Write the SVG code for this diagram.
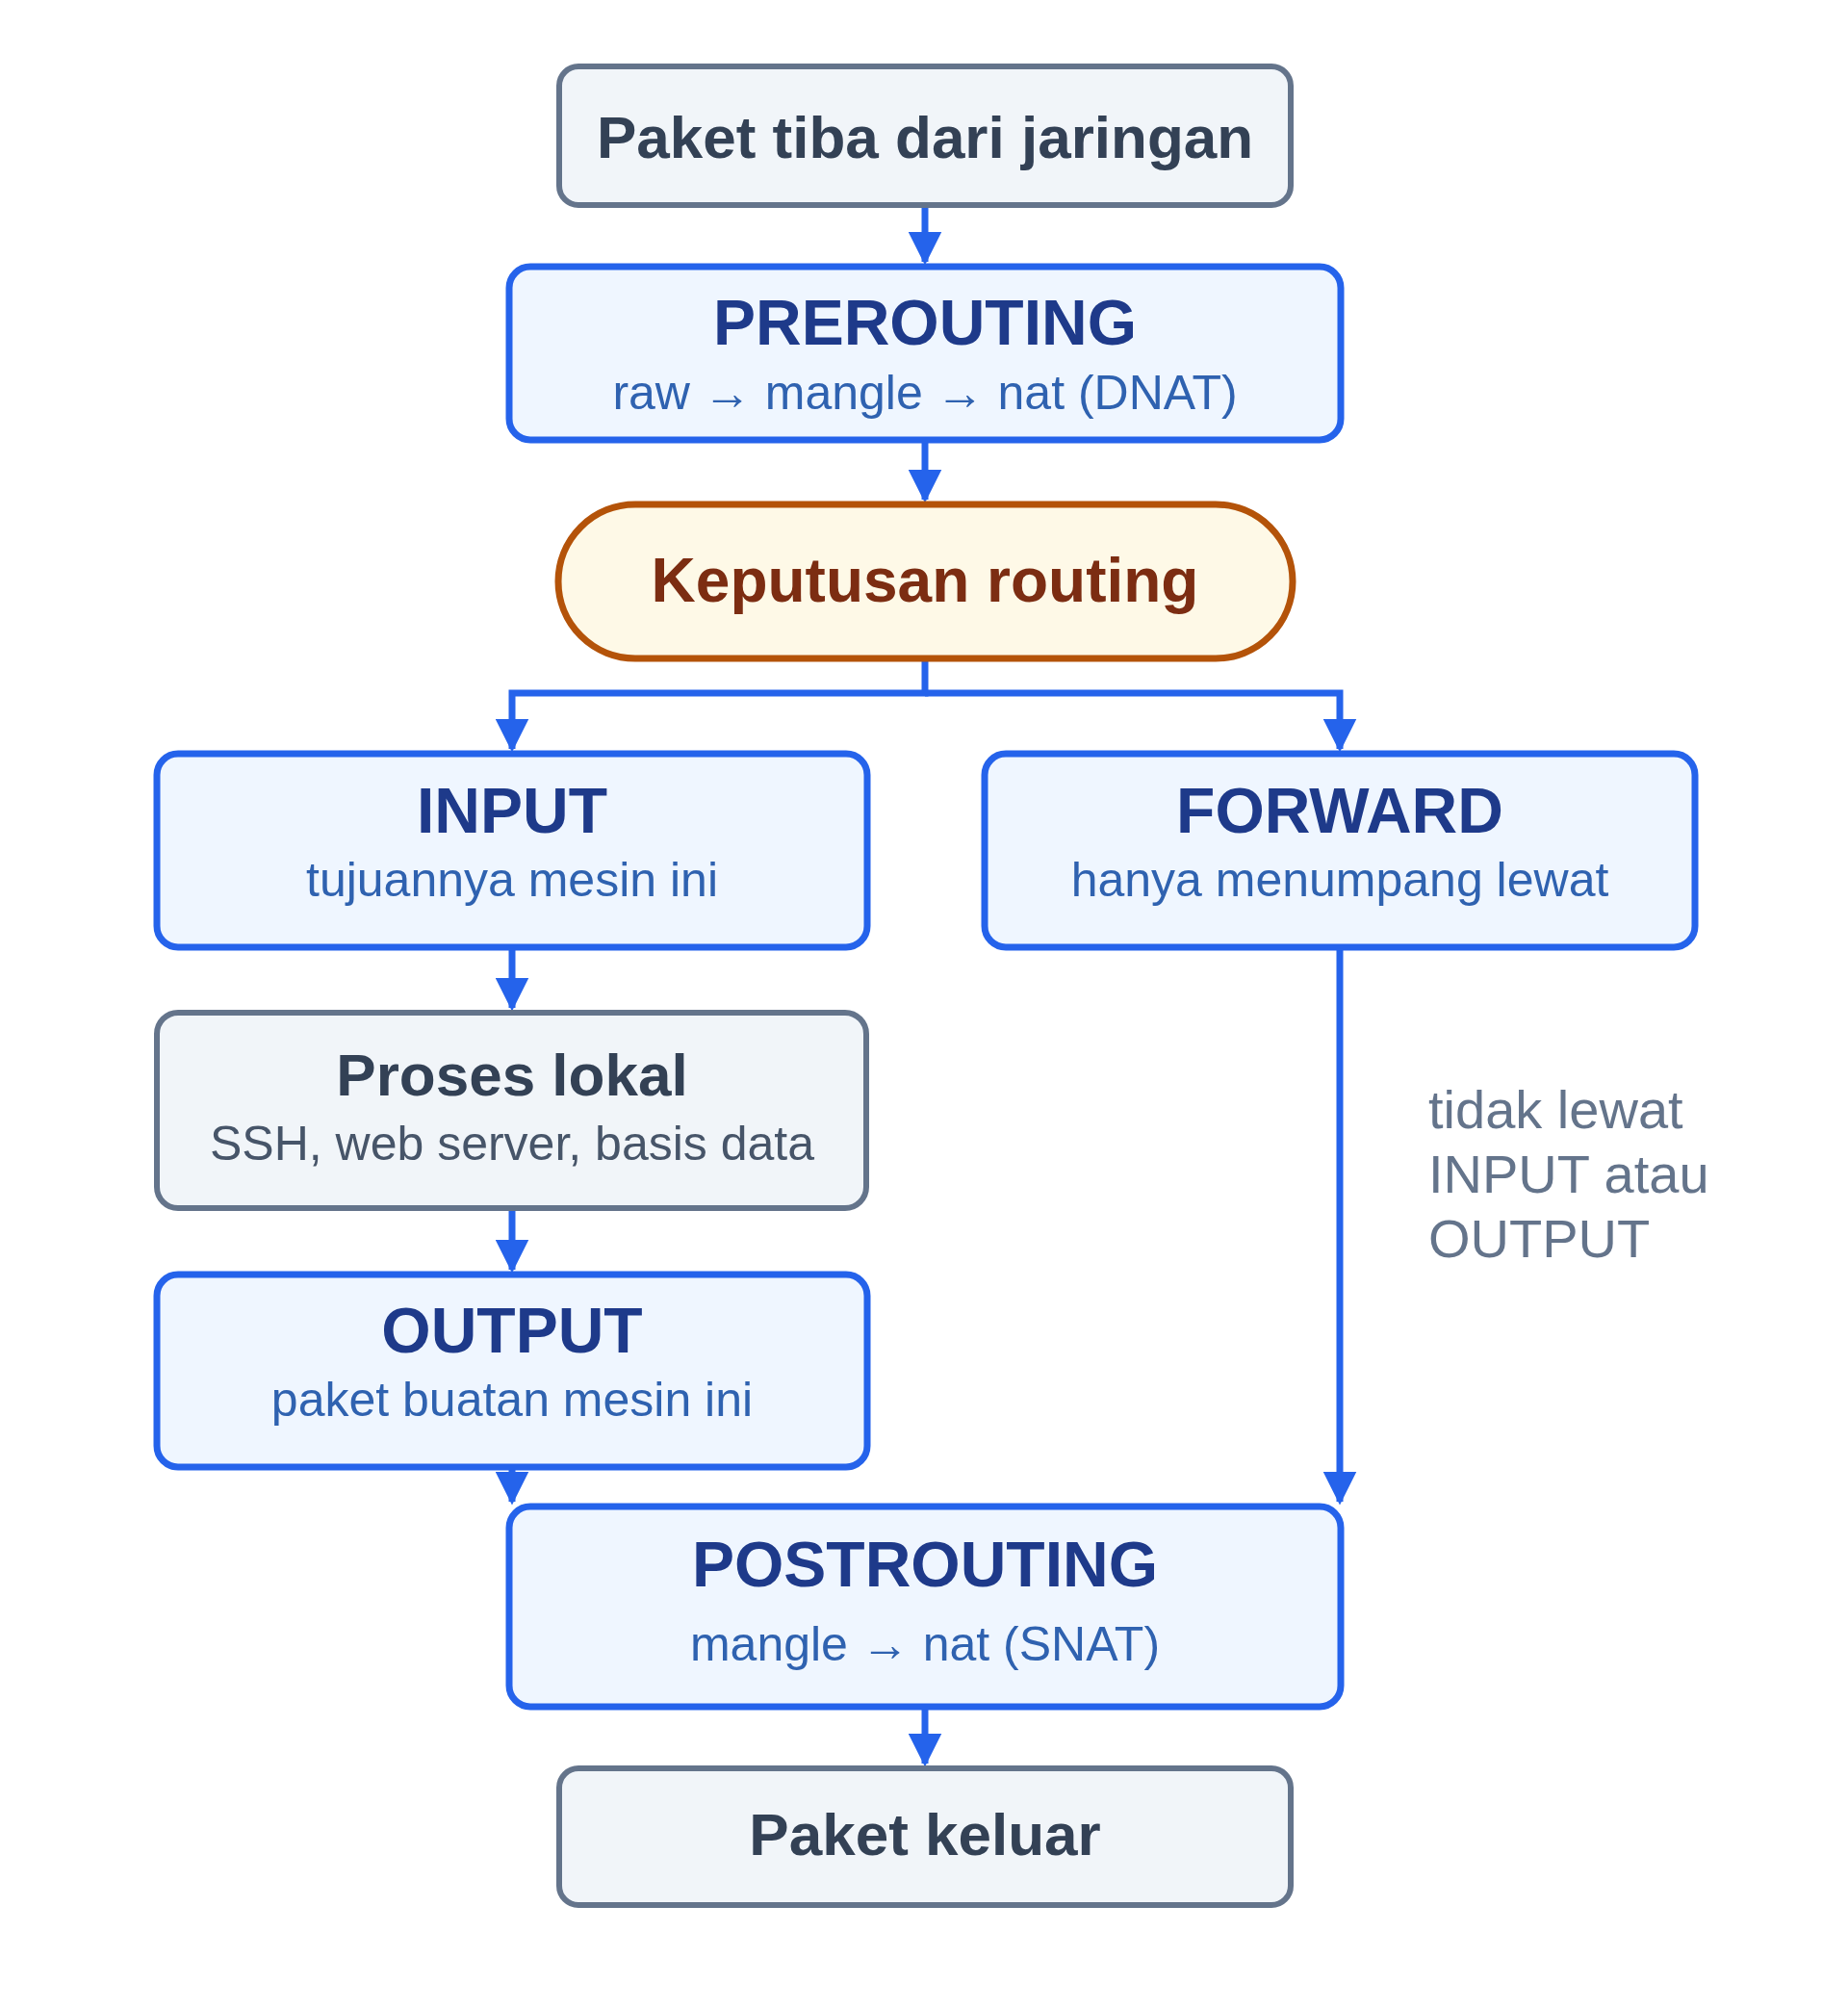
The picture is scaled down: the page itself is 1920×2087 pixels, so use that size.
<svg xmlns="http://www.w3.org/2000/svg" width="1920" height="2087" viewBox="0 0 1920 2087">
<style>
.blue rect{fill:#eff6ff;stroke:#2563eb;stroke-width:7}
.gray rect{fill:#f1f5f9;stroke:#64748b;stroke-width:6}
text{font-family:"Liberation Sans",Arial,sans-serif;text-anchor:middle}
.bt{font-weight:bold;font-size:66px;fill:#1e3a8a}
.bs{font-size:50px;fill:#2f62b0}
.gt{font-weight:bold;font-size:62px;fill:#334155}
.gs{font-size:50px;fill:#475569}
.c{fill:none;stroke:#2563eb;stroke-width:7}
</style>
<defs><marker id="a" viewBox="0 0 10 10" refX="9" refY="5" markerWidth="5" markerHeight="5" orient="auto" markerUnits="strokeWidth"><path d="M0,0L10,5L0,10z" fill="#2563eb"/></marker></defs>
<rect width="1920" height="2087" fill="#fff"/>
<g id="connectors">
<path class="c" d="M961,213V272" marker-end="url(#a)"/>
<path class="c" d="M961,457V519" marker-end="url(#a)"/>
<path class="c" d="M961,684V720H532V778" marker-end="url(#a)"/>
<path class="c" d="M961,720H1392V778" marker-end="url(#a)"/>
<path class="c" d="M532,984V1047" marker-end="url(#a)"/>
<path class="c" d="M532,1255V1319" marker-end="url(#a)"/>
<path class="c" d="M532,1524V1560" marker-end="url(#a)"/>
<path class="c" d="M1392,984V1560" marker-end="url(#a)"/>
<path class="c" d="M961,1773V1832" marker-end="url(#a)"/>
</g>
<g id="n1" class="gray"><rect x="581" y="69" width="760" height="144" rx="20"/><text class="gt" x="961" y="164">Paket tiba dari jaringan</text></g>
<g id="n2" class="blue"><rect x="529" y="277" width="864" height="180" rx="22"/><text class="bt" x="961" y="358">PREROUTING</text><text class="bs" x="961" y="425">raw → mangle → nat (DNAT)</text></g>
<g id="n3"><rect x="580" y="524" width="763" height="160" rx="80" fill="#fef9e7" stroke="#b45309" stroke-width="7"/><text x="961" y="625" font-weight="bold" font-size="64" fill="#7c2d12">Keputusan routing</text></g>
<g id="n4" class="blue"><rect x="163" y="783" width="738" height="201" rx="22"/><text class="bt" x="532" y="865">INPUT</text><text class="bs" x="532" y="931">tujuannya mesin ini</text></g>
<g id="n5" class="blue"><rect x="1023" y="783" width="738" height="201" rx="22"/><text class="bt" x="1392" y="865">FORWARD</text><text class="bs" x="1392" y="931">hanya menumpang lewat</text></g>
<g id="n6" class="gray"><rect x="163" y="1052" width="737" height="203" rx="22"/><text class="gt" x="532" y="1138">Proses lokal</text><text class="gs" x="532" y="1205">SSH, web server, basis data</text></g>
<g id="n7" class="blue"><rect x="163" y="1324" width="738" height="200" rx="22"/><text class="bt" x="532" y="1405">OUTPUT</text><text class="bs" x="532" y="1471">paket buatan mesin ini</text></g>
<g id="n8" class="blue"><rect x="529" y="1565" width="864" height="208" rx="22"/><text class="bt" x="961" y="1648">POSTROUTING</text><text class="bs" x="961" y="1725">mangle → nat (SNAT)</text></g>
<g id="n9" class="gray"><rect x="581" y="1837" width="760" height="142" rx="20"/><text class="gt" x="961" y="1927">Paket keluar</text></g>
<g id="note" font-size="56" fill="#64748b"><text x="1484" y="1172" style="text-anchor:start">tidak lewat</text><text x="1484" y="1239" style="text-anchor:start">INPUT atau</text><text x="1484" y="1306" style="text-anchor:start">OUTPUT</text></g>
</svg>
